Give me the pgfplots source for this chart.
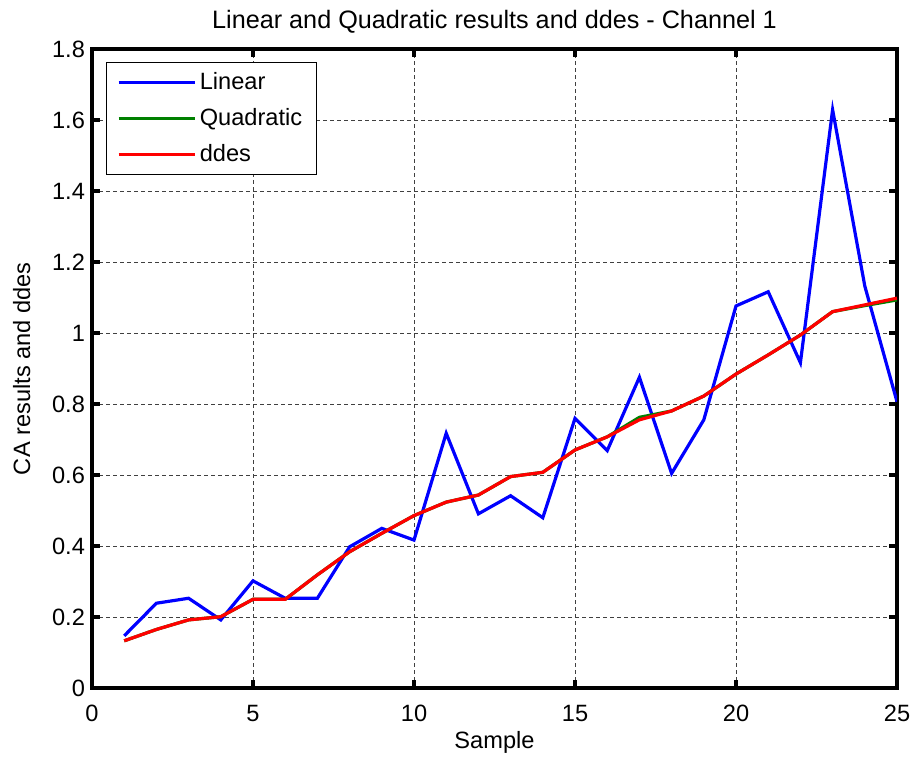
\documentclass[border=0pt]{standalone}
\usepackage{pgfplots}
\pgfplotsset{compat=1.18}
\usepackage{fontspec}
\setmainfont{Liberation Sans}
\definecolor{mblue}{RGB}{0,0,255}
\definecolor{mgreen}{RGB}{0,128,0}
\definecolor{mred}{RGB}{255,0,0}
\newcommand{\ff}{\fontsize{11.8}{14}\selectfont}
\newcommand{\ft}{\fontsize{12.6}{15}\selectfont}
\begin{document}
\begin{tikzpicture}
\useasboundingbox (-46pt,-35pt) rectangle (410.5pt,344pt);
\begin{axis}[
  at={(0pt,0pt)}, anchor=south west,
  scale only axis, width=402.5pt, height=319.25pt,
  xmin=0, xmax=25, ymin=0, ymax=1.8,
  xtick={0,5,...,25},
  ytick={0,0.2,...,1.8},
  yticklabels={0,0.2,0.4,0.6,0.8,1,1.2,1.4,1.6,1.8},
  /pgf/number format/assume math mode=true,
  tick label style={font=\ff},
  xticklabel style={yshift=-5pt},
  axis line style={line width=2pt},
  tick style={line width=2pt, black},
  tick align=inside,
  major tick length=4pt,
  xtick pos=both, ytick pos=both,
  grid=major,
  major grid style={black!75, line width=0.5pt, dash pattern=on 2pt off 1.5pt},
  title={Linear and Quadratic results and ddes - Channel 1},
  title style={font=\ft, at={(axis description cs:0.5,1.0332)}, anchor=base, yshift=-6pt},
  xlabel={Sample},
  xlabel style={font=\ff, at={(axis description cs:0.5,-0.094)}, anchor=base},
  ylabel={CA results and ddes},
  ylabel style={font=\ff, at={(axis description cs:-0.077,0.5)}, anchor=base},
  legend style={font=\ff, at={(axis description cs:0.0174,0.981)}, anchor=north west,
    draw=black, line width=0.6pt, inner xsep=5.25pt, inner ysep=3pt, row sep=4pt,
    nodes={inner xsep=1.75pt},
    /tikz/every even column/.append style={column sep=0pt}},
  legend cell align=left,
  legend image code/.code={\draw[#1] (0pt,0pt) -- (38pt,0pt);},
  every axis plot/.append style={line width=1.6pt},
]
\addplot[mblue] coordinates {
(1,0.147) (2,0.239) (3,0.253) (4,0.192) (5,0.302) (6,0.253) (7,0.253) (8,0.398)
(9,0.450) (10,0.417) (11,0.718) (12,0.491) (13,0.542) (14,0.480) (15,0.760)
(16,0.669) (17,0.876) (18,0.605) (19,0.756) (20,1.077) (21,1.117) (22,0.917)
(23,1.630) (24,1.133) (25,0.807)};
\addlegendentry{Linear}
\addplot[mgreen] coordinates {
(1,0.133) (2,0.165) (3,0.192) (4,0.201) (5,0.250) (6,0.250) (7,0.319) (8,0.384)
(9,0.436) (10,0.486) (11,0.524) (12,0.544) (13,0.596) (14,0.608) (15,0.671)
(16,0.708) (17,0.763) (18,0.781) (19,0.823) (20,0.885) (21,0.939) (22,0.995)
(23,1.061) (24,1.078) (25,1.094)};
\addlegendentry{Quadratic}
\addplot[mred] coordinates {
(1,0.133) (2,0.165) (3,0.192) (4,0.201) (5,0.250) (6,0.250) (7,0.319) (8,0.384)
(9,0.436) (10,0.486) (11,0.524) (12,0.544) (13,0.596) (14,0.608) (15,0.671)
(16,0.708) (17,0.756) (18,0.781) (19,0.823) (20,0.885) (21,0.939) (22,0.995)
(23,1.061) (24,1.080) (25,1.099)};
\addlegendentry{ddes}
\end{axis}
\end{tikzpicture}
\end{document}
